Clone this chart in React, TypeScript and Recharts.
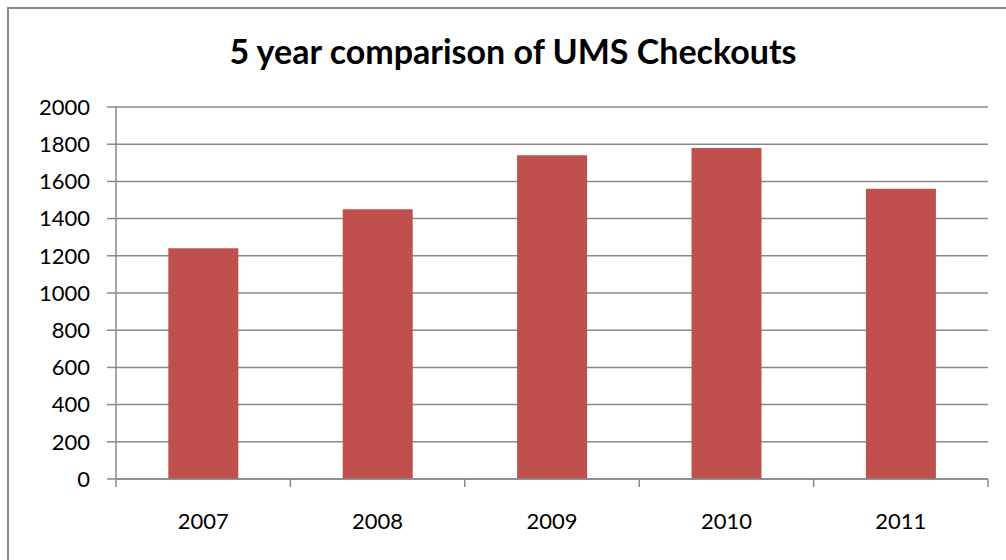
import { BarChart, Bar, XAxis, YAxis, CartesianGrid } from 'recharts';

const years = ['2007', '2008', '2009', '2010', '2011'];
const checkouts = [1240, 1450, 1740, 1780, 1560];
const yTicks = [0, 200, 400, 600, 800, 1000, 1200, 1400, 1600, 1800, 2000];

const data = years.map((year, i) => ({ year, checkouts: checkouts[i] }));

const axisGray = '#898989';

function YearTick(props: any) {
  const { x, y, payload, index } = props;
  const half = payload.offset || 0;
  return (
    <g>
      <line x1={x - half} y1={y} x2={x - half} y2={y + 8} stroke={axisGray} strokeWidth={1.5} />
      {index === years.length - 1 && (
        <line x1={x + half} y1={y} x2={x + half} y2={y + 8} stroke={axisGray} strokeWidth={1.5} />
      )}
      <text x={x} y={y + 41} textAnchor="middle" dominantBaseline="central" fontSize={22} fill="#000">
        {payload.value}
      </text>
    </g>
  );
}

export default function App() {
  return (
    <div
      style={{
        position: 'absolute',
        left: 0,
        top: 0,
        width: 1006,
        height: 560,
        overflow: 'hidden',
        background: '#fff',
        fontFamily: 'Lato, sans-serif',
      }}
    >
      <div
        style={{
          position: 'absolute',
          left: 7,
          top: 7,
          width: 1030,
          height: 600,
          border: `2px solid ${axisGray}`,
        }}
      />
      <div
        style={{
          position: 'absolute',
          left: 0,
          top: 31,
          width: 1026,
          textAlign: 'center',
          fontSize: 34,
          fontWeight: 'bold',
          color: '#000',
          lineHeight: '40px',
        }}
      >
        5 year comparison of UMS Checkouts
      </div>
      <div style={{ position: 'absolute', left: 0, top: 0 }}>
        <BarChart
          width={1006}
          height={560}
          data={data}
          margin={{ top: 107, right: 18, left: 0, bottom: 20 }}
          barCategoryGap="30%"
        >
          <CartesianGrid vertical={false} stroke={axisGray} strokeWidth={1.5} />
          <XAxis
            dataKey="year"
            axisLine={{ stroke: axisGray, strokeWidth: 1.5 }}
            tickLine={false}
            tickSize={0}
            tickMargin={0}
            tick={<YearTick />}
            height={61}
            interval={0}
          />
          <YAxis
            domain={[0, 2000]}
            ticks={yTicks}
            interval={0}
            width={116}
            axisLine={{ stroke: axisGray, strokeWidth: 1.5 }}
            tickLine={{ stroke: axisGray, strokeWidth: 1.5 }}
            tickSize={9}
            tickMargin={17}
            tick={{ fontSize: 22, fill: '#000', fontFamily: 'Lato, sans-serif' }}
          />
          <Bar dataKey="checkouts" fill="#C0504D" isAnimationActive={false} />
        </BarChart>
      </div>
    </div>
  );
}
